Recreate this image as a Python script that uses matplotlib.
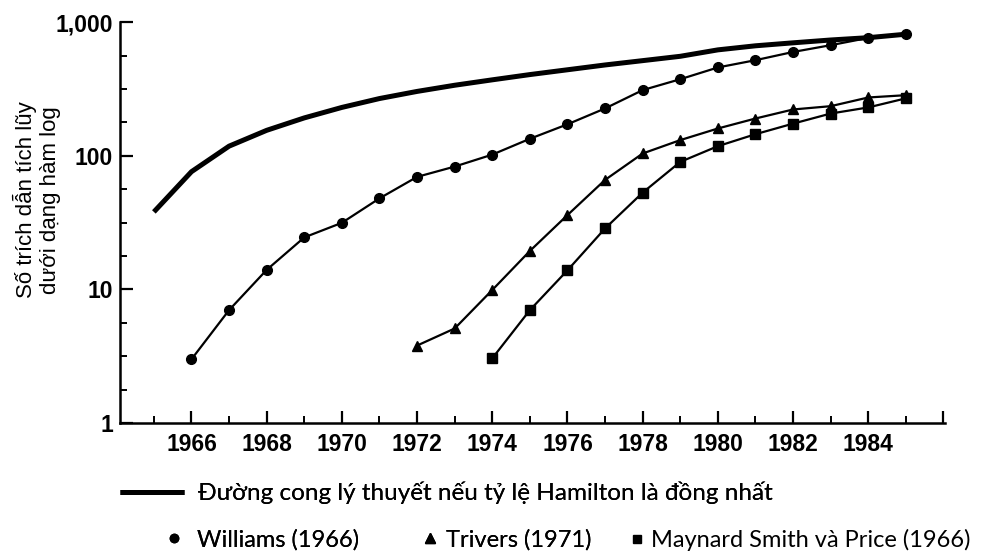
import numpy as np
import matplotlib
matplotlib.use('Agg')
import matplotlib.pyplot as plt
from matplotlib.lines import Line2D
from matplotlib.ticker import FixedLocator, FuncFormatter

# data (cumulative citations, log scale)
years_hamilton = [1965, 1966, 1967, 1968, 1969, 1970, 1971, 1972, 1973, 1974, 1975,
                  1976, 1977, 1978, 1979, 1980, 1981, 1982, 1983, 1984, 1985]
hamilton = [38, 76, 118, 155, 192, 230, 268, 303, 337, 370, 405,
            440, 478, 515, 555, 620, 665, 700, 735, 765, 812]

years_williams = list(range(1966, 1986))
williams = [3, 7, 14, 24.5, 31.5, 48, 69.5, 83, 102, 134,
            172, 226, 310, 374, 458, 519, 598, 672, 762, 812]

years_trivers = list(range(1972, 1986))
trivers = [3.8, 5.1, 9.9, 19.4, 36, 66, 104, 131, 160, 190, 222, 235, 273, 284]

years_msp = list(range(1974, 1986))
msp = [3.05, 7.0, 13.9, 28.6, 53, 90, 118, 145, 174, 207, 230, 269]

label_hamilton = 'Đường cong lý thuyết nếu tỷ lệ Hamilton là đồng nhất'
label_williams = 'Williams (1966)'
label_trivers = 'Trivers (1971)'
label_msp = 'Maynard Smith và Price (1966)'
ylabel = 'Số trích dẫn tích lũy\ndưới dạng hàm log'

plt.rcParams['font.family'] = ['Liberation Sans', 'DejaVu Sans']

fig = plt.figure(figsize=(9.92, 5.53), dpi=100)
ax = fig.add_axes([0.121, 0.235, 0.832, 0.725])

ax.plot(years_hamilton, hamilton, color='black', lw=3.6, solid_capstyle='butt')
ax.plot(years_williams, williams, color='black', lw=1.6, marker='o', ms=7)
ax.plot(years_trivers, trivers, color='black', lw=1.6, marker='^', ms=7.5)
ax.plot(years_msp, msp, color='black', lw=1.6, marker='s', ms=6.5)

ax.set_yscale('log')
ax.set_ylim(1, 1000)
ax.set_xlim(1964.1, 1986.05)

for s in ['top', 'right']:
    ax.spines[s].set_visible(False)
for s in ['left', 'bottom']:
    ax.spines[s].set_linewidth(1.8)

ax.yaxis.set_major_locator(FixedLocator([1, 10, 100, 1000]))
ax.yaxis.set_major_formatter(FuncFormatter(lambda v, p: f'{v:,.0f}'))
minor_y = [10 ** (k + f) for k in range(3) for f in (0.25, 0.5, 0.75)]
ax.yaxis.set_minor_locator(FixedLocator(minor_y))
ax.yaxis.set_minor_formatter(FuncFormatter(lambda v, p: ''))

major_x = list(range(1966, 1987, 2))
ax.xaxis.set_major_locator(FixedLocator(major_x))
ax.xaxis.set_major_formatter(FuncFormatter(lambda v, p: '' if v > 1985 else f'{v:.0f}'))
ax.xaxis.set_minor_locator(FixedLocator(list(range(1965, 1986, 2))))

ax.tick_params(which='major', direction='in', length=9, width=1.6, pad=7,
               labelsize=16.5)
ax.tick_params(axis='y', which='major', pad=5)
ax.tick_params(which='minor', direction='in', length=5, width=1.4)
for lab in ax.get_xticklabels() + ax.get_yticklabels():
    lab.set_fontweight('bold')

fig.text(37 / 992, 1 - 200 / 553, ylabel, rotation=90, ha='center', va='center',
         multialignment='center', fontsize=16, linespacing=1.15)

# legend rows below the axes
leg_font = {'family': ['Lato', 'DejaVu Sans'], 'size': 17.5}
h1 = [Line2D([], [], color='black', lw=3.6, solid_capstyle='butt')]
leg1 = fig.legend(h1, [label_hamilton], loc='center left',
                  bbox_to_anchor=(120 / 992, 1 - 493 / 553), frameon=False,
                  prop=leg_font, handlelength=2.65, handletextpad=0.55,
                  borderpad=0, borderaxespad=0)

row2 = [('o', 6, label_williams, 166, 0.6),
        ('^', 6.5, label_trivers, 422, 0.3),
        ('s', 6, label_msp, 629, 0.25)]
row2_font = {'family': ['Lato', 'DejaVu Sans'], 'size': 17}
legs = [leg1]
for mk, ms, lab, xpx, pad in row2:
    h = Line2D([], [], color='black', ls='none', marker=mk, ms=ms)
    lg = fig.legend([h], [lab], loc='center left',
                    bbox_to_anchor=(xpx / 992, 1 - 540 / 553), frameon=False,
                    prop=row2_font, handlelength=0.7, handletextpad=pad,
                    borderpad=0, borderaxespad=0)
    legs.append(lg)
for lg in legs[:-1]:
    fig.add_artist(lg)

fig.savefig('out.png', dpi=100)
